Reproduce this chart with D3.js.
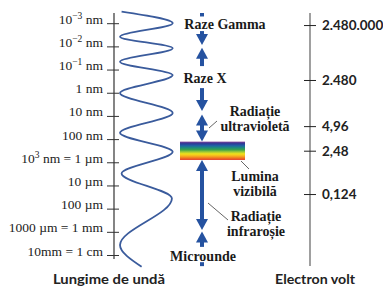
<!DOCTYPE html>
<html>
<head>
<meta charset="utf-8">
<script src="https://cdn.jsdelivr.net/npm/d3@7"></script>
<style>
  body { margin: 0; background: #fff; }
  .serif { font-family: "Liberation Serif", "Times New Roman", serif; }
  .sans { font-family: Lato, "Open Sans", sans-serif; font-weight: bold; }
</style>
</head>
<body>
<div id="chart"></div>
<script>
// Wavelength axis, values are log10 of the wavelength in nm
var wlTicks = [-3, -2, -1, 0, 1, 2, 3, 4, 5, 6, 7];
var wlLabels = ["10^−3 nm", "10^−2 nm", "10^−1 nm", "1 nm", "10 nm", "100 nm",
	"10^3 nm = 1 µm", "10 µm", "100 µm", "1000 µm = 1 mm", "10mm = 1 cm"];

// Electron volt axis, positions in the same units
var evLabels = ["2.480.000", "2.480", "4,96", "2,48", "0,124"];
var evPos = [-2.92, -0.55, 1.44, 2.50, 4.37];

// Wave drawn next to the wavelength axis (turning points)
var waveY = [-3.50, -3.00, -2.42, -1.92, -1.34, -0.76, 0.01, 0.87, 1.73, 2.55, 3.48, 4.56, 6.57, 7.51];
var waveX = [-0.94, 1, -1, 1, -1, 1, -1, 1, -1, 1, -0.94, 0.97, -1, -0.18];

// Arrow pieces of the spectrum column: [from, to, head at from, head at to]
var arrowSegs = [
	[-3.44, -3.29, 0, 0],
	[-2.66, -2.06, 0, 1],
	[-1.94, -1.15, 1, 0],
	[-0.20, 0.79, 0, 1],
	[0.94, 2.10, 1, 1],
	[2.90, 5.92, 1, 1],
	[5.99, 6.65, 1, 0],
	[7.31, 7.48, 0, 0]
];
var visibleBand = [2.11, 2.90];
var rainbow = ["#7b3f98", "#2d3b97", "#1f63a6", "#1f8a7a", "#3aa24a", "#9cc83a", "#f1e21a", "#f7b51e", "#f07a22", "#e2392a"];

var svg_width = 383,
	svg_height = 288;

var svg = d3.select("#chart").append("svg")
	.attr("width", svg_width)
	.attr("height", svg_height);

// Scales
var yScale = d3.scaleLinear().domain([-3, 7]).range([23.2, 255]);
var waveScale = d3.scaleLinear().domain([-1, 1]).range([120, 172.7]);

var axisX = 114,
	evAxisX = 310,
	arrowX = 202,
	blue = "#2552a0";

//
// Wavelength axis
//
svg.append("line")
	.attr("x1", axisX).attr("x2", axisX)
	.attr("y1", yScale(-3.44)).attr("y2", yScale(7.17))
	.attr("stroke", "#333").attr("stroke-width", 1.2);

var wlAxis = svg.append("g")
	.attr("transform", "translate(" + axisX + ",0)")
	.call(d3.axisLeft(yScale).tickValues(wlTicks).tickSizeInner(7).tickSizeOuter(0).tickPadding(4).tickFormat(""));
wlAxis.select(".domain").remove();
wlAxis.selectAll(".tick line").attr("x1", 5).attr("stroke", "#333");
wlAxis.selectAll(".tick text")
	.attr("class", "serif")
	.attr("font-size", 13.5)
	.attr("fill", "#222")
	.each(function(d, i) {
		var t = d3.select(this);
		var parts = wlLabels[i].split(/\^(\S+)/);
		parts.forEach(function(p, j) {
			if (j % 2 == 1) {
				t.append("tspan").attr("dy", -5).attr("font-size", 9.5).text(p);
			} else {
				t.append("tspan").attr("dy", j > 0 ? 5 : 0).text(p);
			}
		});
	});

// Wave
var waveLine = d3.line()
	.x(function(d) { return waveScale(d[0]); })
	.y(function(d) { return yScale(d[1]); })
	.curve(d3.curveMonotoneY);

svg.append("path")
	.datum(d3.zip(waveX, waveY))
	.attr("d", waveLine)
	.attr("fill", "none")
	.attr("stroke", "#3a5b9c")
	.attr("stroke-width", 1.8);

//
// Spectrum arrows
//
var headW = 6, headL = 11;
arrowSegs.forEach(function(s) {
	var y1 = yScale(s[0]), y2 = yScale(s[1]);
	var a = y1 + (s[2] ? headL - 1 : 0),
		b = y2 - (s[3] ? headL - 1 : 0);
	svg.append("line")
		.attr("x1", arrowX).attr("x2", arrowX)
		.attr("y1", a).attr("y2", b)
		.attr("stroke", blue).attr("stroke-width", 4);
	if (s[2]) {
		svg.append("path")
			.attr("d", "M" + arrowX + "," + y1 + "L" + (arrowX + headW) + "," + (y1 + headL) + "L" + (arrowX - headW) + "," + (y1 + headL) + "Z")
			.attr("fill", blue);
	}
	if (s[3]) {
		svg.append("path")
			.attr("d", "M" + arrowX + "," + y2 + "L" + (arrowX + headW) + "," + (y2 - headL) + "L" + (arrowX - headW) + "," + (y2 - headL) + "Z")
			.attr("fill", blue);
	}
});

// Visible light strip
var grad = svg.append("defs").append("linearGradient")
	.attr("id", "rainbow")
	.attr("x1", 0).attr("x2", 0).attr("y1", 0).attr("y2", 1);
grad.selectAll("stop")
	.data(rainbow)
	.enter()
	.append("stop")
	.attr("offset", function(d, i) { return i / (rainbow.length - 1); })
	.attr("stop-color", function(d) { return d; });

svg.append("rect")
	.attr("x", 180).attr("width", 65)
	.attr("y", yScale(visibleBand[0]))
	.attr("height", yScale(visibleBand[1]) - yScale(visibleBand[0]))
	.attr("fill", "url(#rainbow)");

// Band names
var bandText = [
	{ lines: ["Raze Gamma"], x: 225, y: 28.5 },
	{ lines: ["Raze X"], x: 205, y: 82.5 },
	{ lines: ["Radiație", "ultravioletă"], x: 255, y: 116 },
	{ lines: ["Lumina", "vizibilă"], x: 255, y: 181 },
	{ lines: ["Radiație", "infraroșie"], x: 256, y: 221 },
	{ lines: ["Microunde"], x: 203, y: 261 }
];
bandText.forEach(function(b) {
	var t = svg.append("text")
		.attr("class", "serif")
		.attr("font-weight", "bold")
		.attr("font-size", 14)
		.attr("fill", "#1a1a1a")
		.attr("text-anchor", "middle");
	b.lines.forEach(function(l, i) {
		t.append("tspan").attr("x", b.x).attr("y", b.y + i * 14.5).text(l);
	});
});

// Leader lines
[[209, 128, 217, 121], [241, 161, 249, 169], [208, 203, 228, 220]].forEach(function(l) {
	svg.append("line")
		.attr("x1", l[0]).attr("y1", l[1]).attr("x2", l[2]).attr("y2", l[3])
		.attr("stroke", "#555").attr("stroke-width", 0.9);
});

//
// Electron volt axis
//
svg.append("line")
	.attr("x1", evAxisX).attr("x2", evAxisX)
	.attr("y1", 13).attr("y2", 266)
	.attr("stroke", "#777").attr("stroke-width", 1.4);

var evAxis = svg.append("g")
	.attr("transform", "translate(" + evAxisX + ",0)")
	.call(d3.axisRight(yScale).tickValues(evPos).tickSizeInner(6).tickSizeOuter(0).tickPadding(6)
		.tickFormat(function(d, i) { return evLabels[i]; }));
evAxis.select(".domain").remove();
evAxis.selectAll(".tick line").attr("x1", -6).attr("stroke", "#222");
evAxis.selectAll(".tick text")
	.attr("class", "sans")
	.attr("font-size", 13.5)
	.attr("fill", "#222");

// Axis titles
svg.append("text")
	.attr("class", "sans")
	.attr("x", 109).attr("y", 284)
	.attr("text-anchor", "middle")
	.attr("font-size", 14)
	.attr("textLength", 112)
	.attr("lengthAdjust", "spacingAndGlyphs")
	.attr("fill", "#222")
	.text("Lungime de undă");

svg.append("text")
	.attr("class", "sans")
	.attr("x", 315).attr("y", 284)
	.attr("text-anchor", "middle")
	.attr("font-size", 14)
	.attr("textLength", 80)
	.attr("lengthAdjust", "spacingAndGlyphs")
	.attr("fill", "#222")
	.text("Electron volt");
</script>
</body>
</html>
